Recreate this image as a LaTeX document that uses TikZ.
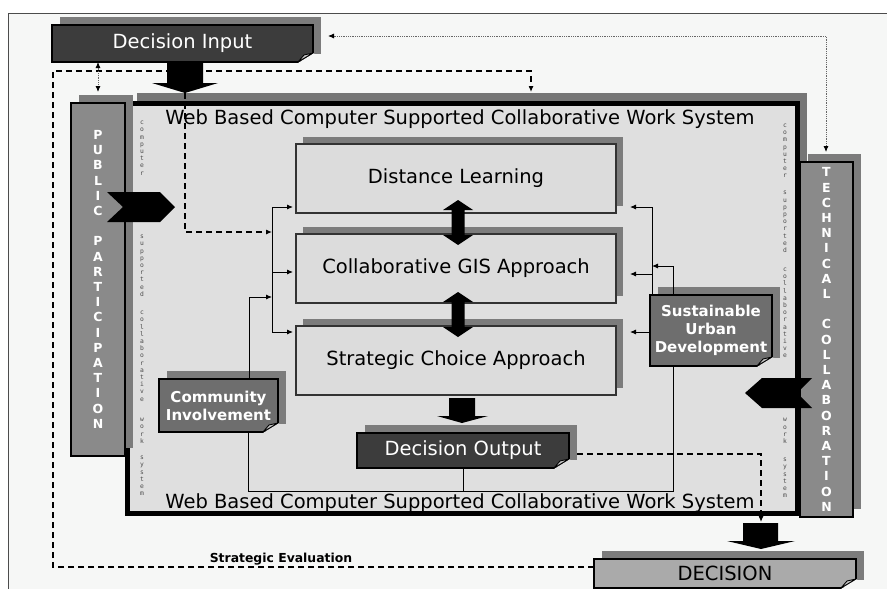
\documentclass[tikz,border=0pt]{standalone}
\usepackage{fontspec}
\setmainfont{DejaVu Sans}
\newfontfamily\monof{DejaVu Sans Mono}
\usetikzlibrary{shadows,arrows.meta,calc}
\definecolor{pagebg}{HTML}{F6F7F6}
\definecolor{mainbg}{HTML}{DFDFDF}
\definecolor{boxbg}{HTML}{DCDCDC}
\definecolor{shd}{HTML}{7C7C7C}
\definecolor{darkbox}{HTML}{3C3C3C}
\definecolor{sidebox}{HTML}{8A8A8A}
\definecolor{midbox}{HTML}{6E6E6E}
\definecolor{decbox}{HTML}{AAAAAA}
\definecolor{tinygray}{HTML}{4A4A4A}
\definecolor{flapcol}{HTML}{C8C8C8}
\newcommand\dogear[2]{%
  \fill[#2] ($(#1.south east)+(-15,1)$) -- ($(#1.south east)+(1,1)$) -- ($(#1.south east)+(1,-9)$) -- cycle;
  \filldraw[fill=flapcol, draw=black, line width=0.9pt, line join=round] ($(#1.south east)+(-15,0)$) -- ($(#1.south east)+(0,-9)$) -- ($(#1.south east)+(-9,-7)$) -- cycle;}
\begin{document}
\begin{tikzpicture}[x=1pt,y=-1pt,
  box/.style={rectangle, inner sep=0pt, outer sep=0pt, align=center},
  shadowA/.style={general shadow={fill=shd, shadow xshift=8pt, shadow yshift=8pt}},
  shadowB/.style={general shadow={fill=shd, shadow xshift=7pt, shadow yshift=7pt}},
  shadowM/.style={general shadow={fill=shd!95!black, shadow xshift=10pt, shadow yshift=10pt}},
  bigtxt/.style={font=\fontsize{19.5}{23}\selectfont},
  whitebold/.style={font=\fontsize{15}{18}\selectfont\bfseries, text=white},
  darkbx/.style={box, fill=darkbox, draw=black, line width=1.5pt, shadowA, bigtxt, text=white},
  lightbx/.style={box, fill=boxbg, draw=black!80, line width=1.1pt, shadowB, bigtxt},
  midbx/.style={box, fill=midbox, draw=black, line width=1.5pt, shadowA, whitebold},
  sidebx/.style={box, fill=sidebox, draw=black, line width=1.5pt, shadowA},
  vletters/.style={font=\fontsize{12.5}{15.2}\selectfont\bfseries, text=white, align=center, inner sep=0pt},
  tinyv/.style={font=\monof\fontsize{6.3}{7.2}\selectfont, text=tinygray, align=center, inner sep=0pt},
  conn/.style={draw=black, line width=0.9pt},
  arr/.style={conn, -{Latex[length=6pt,width=5pt]}},
  dasharr/.style={draw=black, line width=1.1pt, dash pattern=on 6pt off 4pt, -{Latex[length=6pt,width=5pt]}},
  dotarr/.style={draw=black!60, line width=0.8pt, densely dotted, {Latex[length=6pt,width=5pt,black]}-{Latex[length=6pt,width=5pt,black]}},
  blk/.style={fill=black}
]
\useasboundingbox (0,0) rectangle (887,589);
\fill[white] (0,0) rectangle (887,589);
\fill[pagebg] (8,13) rectangle (887,589);
\draw[black!70, line width=1pt] (8,589) -- (8,13) -- (887,13);

% strategic evaluation label
\node[box, font=\fontsize{12.4}{14}\selectfont\bfseries] (se) at (281,559) {Strategic Evaluation};

% decision input
\node[darkbx, minimum width=261, minimum height=37] (din) at (182.5,43.5) {Decision Input};
\dogear{din}{pagebg}

% main frame
\node[box, fill=mainbg, draw=black, line width=5pt, shadowM, minimum width=670, minimum height=410] (main) at (462,308) {};
\node[sidebx, minimum width=54, minimum height=353] (pp) at (98,279.5) {};
\node[sidebx, minimum width=53, minimum height=355] (tc) at (826.5,339.5) {};

\node[vletters] (ppt) at (98,279.4) {P\\U\\B\\L\\I\\C\\[15.2pt]P\\A\\R\\T\\I\\C\\I\\P\\A\\T\\I\\O\\N};
\node[vletters] (tct) at (826.5,339.5) {T\\E\\C\\H\\N\\I\\C\\A\\L\\[15.2pt]C\\O\\L\\L\\A\\B\\O\\R\\A\\T\\I\\O\\N};

% chevrons
\fill[black] (107,192) -- (160,192) -- (175,207) -- (160,222) -- (107,222) -- (123,207) -- cycle;
\fill[black] (812,378) -- (762,378) -- (745,393) -- (762,408) -- (812,408) -- (797,393) -- cycle;

% titles
\node[box, bigtxt] (ttop) at (460,119) {Web Based Computer Supported Collaborative Work System};
\node[box, bigtxt] (tbot) at (460,503) {Web Based Computer Supported Collaborative Work System};

% tiny vertical words left
\node[tinyv] (lw1) at (142,148.2) {c\\o\\m\\p\\u\\t\\e\\r};
\node[tinyv] (lw2) at (142,265.8) {s\\u\\p\\p\\o\\r\\t\\e\\d};
\node[tinyv] (lw3) at (142,356.2) {c\\o\\l\\l\\a\\b\\o\\r\\a\\t\\i\\v\\e};
\node[tinyv] (lw4) at (142,430.8) {w\\o\\r\\k};
\node[tinyv] (lw5) at (142,476) {s\\y\\s\\t\\e\\m};
% right
\node[tinyv] (rw1) at (785,151) {c\\o\\m\\p\\u\\t\\e\\r};
\node[tinyv] (rw2) at (785,222) {s\\u\\p\\p\\o\\r\\t\\e\\d};
\node[tinyv] (rw3) at (785,313) {c\\o\\l\\l\\a\\b\\o\\r\\a\\t\\i\\v\\e};
\node[tinyv] (rw4) at (785,431) {w\\o\\r\\k};
\node[tinyv] (rw5) at (785,478) {s\\y\\s\\t\\e\\m};

% inner boxes
\node[lightbx, minimum width=320, minimum height=69] (dl) at (456,178.5) {Distance Learning};
\node[lightbx, minimum width=320, minimum height=69] (gis) at (456,268.5) {Collaborative GIS Approach};
\node[lightbx, minimum width=320, minimum height=69] (sca) at (456,360.5) {Strategic Choice Approach};

% double arrows
\foreach \o in {0,92}{
\fill[black] (458,200+\o) -- (473,210+\o) -- (464.5,210+\o) -- (464.5,235+\o) -- (473,235+\o) -- (458,245+\o) -- (443,235+\o) -- (451.5,235+\o) -- (451.5,210+\o) -- (443,210+\o) -- cycle;}

% side boxes
\node[midbx, minimum width=119, minimum height=53] (ci) at (218.5,405.5) {Community\\Involvement};
\dogear{ci}{mainbg}
\node[midbx, minimum width=122, minimum height=71] (sud) at (711,330.5) {Sustainable\\Urban\\Development};
\dogear{sud}{mainbg}

% outputs
\node[darkbx, minimum width=212, minimum height=35] (dout) at (463,450.5) {Decision Output};
\dogear{dout}{mainbg}
\node[box, fill=decbox, draw=black, line width=1.5pt, shadowA, bigtxt, minimum width=262, minimum height=29] (dec) at (725,573.5) {DECISION};
\dogear{dec}{pagebg}

% coordinates
\coordinate (tipA) at (185,93);
\coordinate (lv1) at (272,207);
\coordinate (lv2) at (272,332);
\coordinate (lin1) at (272,232);
\coordinate (lin2) at (272,297);
\coordinate (rv1) at (652,207);
\coordinate (rj) at (652,266);
\coordinate (bj) at (673,491);
\coordinate (bl) at (248,491);
\coordinate (dj) at (761,454);
\coordinate (dend) at (761,522);
\coordinate (selc) at (53,567);
\coordinate (setl) at (53,71);
\coordinate (setr) at (531,71);
\coordinate (setend) at (531,92);
\coordinate (dtr) at (826,36);
\coordinate (dtend) at (826,152);
\coordinate (dil) at (328,36);

% left network
\draw[conn] (lv1) -- (lv2);
\draw[arr, shorten >=3pt] (lv1) -- (dl.west |- lv1);
\draw[arr, shorten >=3pt] (lv1 |- 0,272) -- (gis.west |- 0,272);
\draw[arr, shorten >=3pt] (lv2) -- (sca.west |- lv2);
\draw[dasharr] (tipA) -- (185,232) -- (lin1);
\draw[arr] (ci.north -| 249,0) -- (249,297) -- (lin2);
\draw[conn] (ci.south -| bl) -- (bl) -- (bj) -- (sud.south -| bj);
\draw[conn] (dout.south) -- (dout.south |- bj);

% right network
\draw[conn] (rv1) -- (sud.north -| rv1);
\draw[arr, shorten >=14pt] (rv1) -- (dl.east |- rv1);
\draw[arr, shorten >=14pt] (rv1 |- 0,274) -- (gis.east |- 0,274);
\draw[arr, shorten >=14pt] (sud.west |- 0,332) -- (sca.east |- 0,332);
\draw[arr] (sud.north -| 673,0) -- (673,266) -- (rj);

% block arrows
\fill[blk] (167,62.5) -- (203,62.5) -- (203,83) -- (218,83) -- (185,93) -- (152,83) -- (167,83) -- cycle;
\fill[blk] (449,398) -- (475,398) -- (475,416) -- (488,416) -- (462,423) -- (437,416) -- (449,416) -- cycle;
\fill[blk] (743,523) -- (778,523) -- (778,541) -- (795,541) -- (761,549) -- (727,541) -- (743,541) -- cycle;

% dashed / dotted connectors
\draw[dasharr] (dout.east |- dj) ++(8,0) -- (dj) -- (dend);
\draw[dasharr] (dec.west |- selc) -- (selc) -- (setl) -- (setr) -- (setend);
\draw[dotarr] (din.south -| 98,0) -- (98,92);
\draw[dotarr] (dil) -- (dtr) -- (dtend);
\end{tikzpicture}
\end{document}
